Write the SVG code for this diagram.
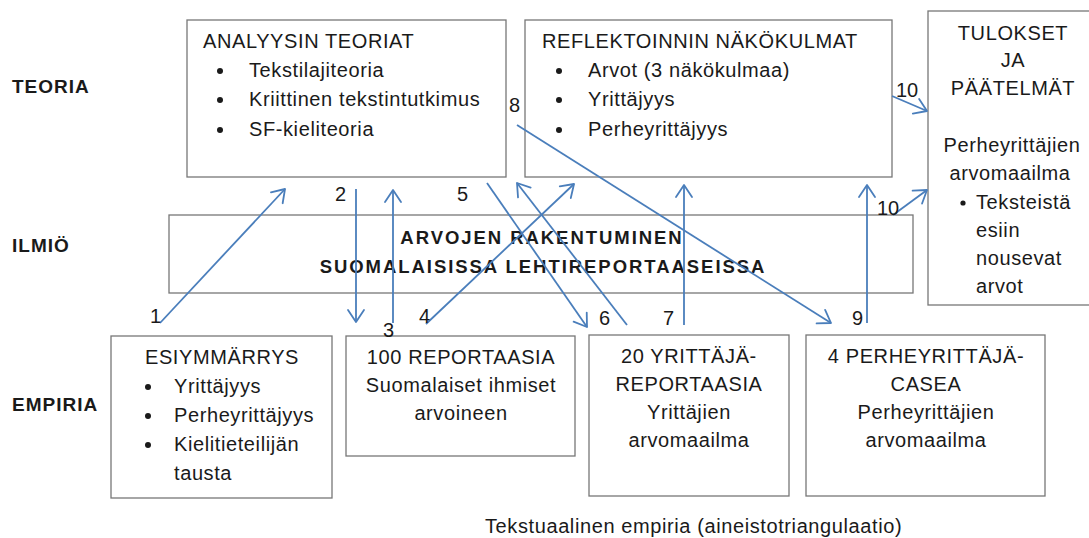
<svg xmlns="http://www.w3.org/2000/svg" width="1089" height="538" viewBox="0 0 1089 538">
<defs>
<marker id="ah" viewBox="-14 -10 16 20" refX="0" refY="0" markerWidth="16" markerHeight="20" markerUnits="userSpaceOnUse" orient="auto">
<path d="M-12,-8 L0,0 L-12,8" fill="none" stroke="#4a7ebb" stroke-width="1.8" stroke-linecap="round" stroke-linejoin="round"/>
</marker>
<style>
.box{fill:#fff;stroke:#777;stroke-width:1.3}
.t{font-family:"Liberation Sans",Arial,sans-serif;font-size:20px;fill:#1a1a1a;letter-spacing:0.6px}
.c{text-anchor:middle}
.lab{font-family:"Liberation Sans",Arial,sans-serif;font-size:19px;font-weight:bold;fill:#1a1a1a;letter-spacing:1px}
.band{font-family:"Liberation Sans",Arial,sans-serif;font-size:18.5px;font-weight:bold;fill:#1a1a1a;letter-spacing:1.95px;text-anchor:middle}
.n{font-family:"Liberation Sans",Arial,sans-serif;font-size:20px;fill:#1a1a1a}
.b{fill:#1a1a1a}
.ar{fill:none;stroke:#4a7ebb;stroke-width:1.8;marker-end:url(#ah)}
</style>
</defs>
<rect width="1089" height="538" fill="#fff"/>
<g id="row-labels">
<text class="lab" x="12" y="93">TEORIA</text>
<text class="lab" x="12" y="252">ILMIÖ</text>
<text class="lab" x="12" y="411">EMPIRIA</text>
</g>
<g id="analyysin">
<rect class="box" x="187" y="20" width="319" height="157"/>
<text class="t" x="203" y="48">ANALYYSIN TEORIAT</text>
<circle class="b" cx="220" cy="71" r="3"/><text class="t" x="249" y="77">Tekstilajiteoria</text>
<circle class="b" cx="220" cy="100" r="3"/><text class="t" x="249" y="106">Kriittinen tekstintutkimus</text>
<circle class="b" cx="220" cy="130" r="3"/><text class="t" x="249" y="136">SF-kieliteoria</text>
</g>
<g id="reflektoinnin">
<rect class="box" x="525" y="20" width="367" height="157"/>
<text class="t" x="542" y="48">REFLEKTOINNIN NÄKÖKULMAT</text>
<circle class="b" cx="559" cy="71" r="3"/><text class="t" x="588" y="77">Arvot (3 näkökulmaa)</text>
<circle class="b" cx="559" cy="100" r="3"/><text class="t" x="588" y="106">Yrittäjyys</text>
<circle class="b" cx="559" cy="130" r="3"/><text class="t" x="588" y="136">Perheyrittäjyys</text>
</g>
<g id="tulokset">
<rect class="box" x="928" y="11" width="170" height="294"/>
<text class="t c" x="1013" y="40">TULOKSET</text>
<text class="t c" x="1013" y="67">JA</text>
<text class="t c" x="1013" y="95">PÄÄTELMÄT</text>
<text class="t c" x="1012" y="152">Perheyrittäjien</text>
<text class="t c" x="1010" y="180">arvomaailma</text>
<circle class="b" cx="963" cy="203" r="2.6"/><text class="t" x="976" y="209">Teksteistä</text>
<text class="t" x="976" y="237">esiin</text>
<text class="t" x="976" y="265">nousevat</text>
<text class="t" x="976" y="293">arvot</text>
</g>
<g id="ilmio">
<rect class="box" x="169" y="215" width="744" height="78"/>
<text class="band" x="542" y="244">ARVOJEN RAKENTUMINEN</text>
<text class="band" x="543" y="273">SUOMALAISISSA LEHTIREPORTAASEISSA</text>
</g>
<g id="esiymmarrys">
<rect class="box" x="111" y="336" width="221" height="162"/>
<text class="t c" x="222" y="364">ESIYMMÄRRYS</text>
<circle class="b" cx="148" cy="387" r="3"/><text class="t" x="174" y="393">Yrittäjyys</text>
<circle class="b" cx="148" cy="416" r="3"/><text class="t" x="174" y="422">Perheyrittäjyys</text>
<circle class="b" cx="148" cy="445" r="3"/><text class="t" x="174" y="451">Kielitieteilijän</text>
<text class="t" x="174" y="480">tausta</text>
</g>
<g id="reportaasia100">
<rect class="box" x="346" y="336" width="229" height="120"/>
<text class="t c" x="461" y="364">100 REPORTAASIA</text>
<text class="t c" x="461" y="392">Suomalaiset ihmiset</text>
<text class="t c" x="461" y="420">arvoineen</text>
</g>
<g id="yrittaja20">
<rect class="box" x="589" y="335" width="200" height="161"/>
<text class="t c" x="689" y="363">20 YRITTÄJÄ-</text>
<text class="t c" x="689" y="391">REPORTAASIA</text>
<text class="t c" x="689" y="419">Yrittäjien</text>
<text class="t c" x="689" y="447">arvomaailma</text>
</g>
<g id="perheyrittaja4">
<rect class="box" x="806" y="335" width="239" height="161"/>
<text class="t c" x="926" y="363">4 PERHEYRITTÄJÄ-</text>
<text class="t c" x="926" y="391">CASEA</text>
<text class="t c" x="926" y="419">Perheyrittäjien</text>
<text class="t c" x="926" y="447">arvomaailma</text>
</g>
<g id="caption">
<text class="t" x="485" y="533">Tekstuaalinen empiria (aineistotriangulaatio)</text>
</g>
<g id="connectors">
<line class="ar" x1="160" y1="323" x2="285" y2="189"/>
<line class="ar" x1="356" y1="189" x2="356" y2="322"/>
<line class="ar" x1="393" y1="323" x2="393" y2="190"/>
<line class="ar" x1="426" y1="324" x2="574" y2="184"/>
<line class="ar" x1="487" y1="183" x2="587" y2="327"/>
<line class="ar" x1="627" y1="325" x2="517" y2="183"/>
<line class="ar" x1="684" y1="325" x2="684" y2="185"/>
<line class="ar" x1="517" y1="125" x2="831" y2="323"/>
<line class="ar" x1="867" y1="323" x2="867" y2="185"/>
<line class="ar" x1="892" y1="96" x2="927" y2="111"/>
<line class="ar" x1="893" y1="215" x2="927" y2="190"/>
</g>
<g id="numbers">
<text class="n" x="150" y="323">1</text>
<text class="n" x="335" y="201">2</text>
<text class="n" x="383" y="337">3</text>
<text class="n" x="419" y="323">4</text>
<text class="n" x="457" y="201">5</text>
<text class="n" x="599" y="325">6</text>
<text class="n" x="663" y="325">7</text>
<text class="n" x="509" y="112">8</text>
<text class="n" x="852" y="325">9</text>
<text class="n" x="896" y="97">10</text>
<text class="n" x="877" y="215">10</text>
</g>
</svg>
